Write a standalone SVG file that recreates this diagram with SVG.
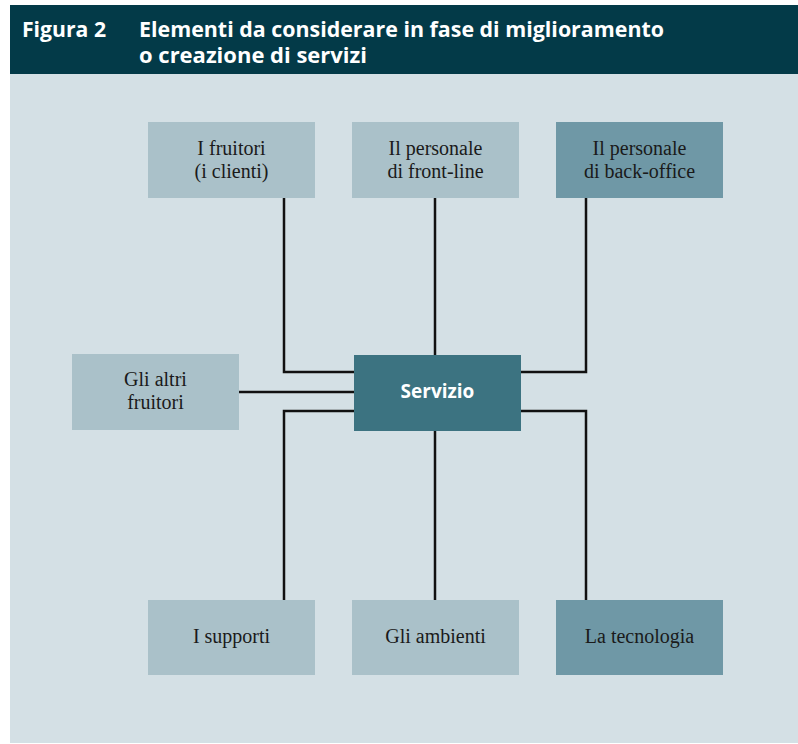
<svg xmlns="http://www.w3.org/2000/svg" width="798" height="744" viewBox="0 0 798 744">
<style>
.title{font-family:"Open Sans","Liberation Sans",sans-serif;font-weight:bold;font-size:21px;fill:#ffffff}
.lbl{font-family:"Liberation Serif","DejaVu Serif",serif;font-size:20px;fill:#1a1a1a;text-anchor:middle}
.light{fill:#aac1c9}
.dark{fill:#6f98a6}
.conn{stroke:#111;stroke-width:2.5;fill:none}
.center{font-family:"Open Sans","Liberation Sans",sans-serif;font-weight:bold;font-size:19px;fill:#fff;text-anchor:middle}
</style>
<rect x="0" y="0" width="798" height="744" fill="#ffffff"/>
<rect x="10" y="73" width="788" height="670" fill="#d4e0e5"/>
<rect x="10" y="5" width="788" height="69" fill="#033a48"/>
<text class="title" x="22" y="37" textLength="84" lengthAdjust="spacingAndGlyphs">Figura 2</text>
<text class="title" x="139" y="37" textLength="525" lengthAdjust="spacingAndGlyphs">Elementi da considerare in fase di miglioramento</text>
<text class="title" x="139" y="63" textLength="228" lengthAdjust="spacingAndGlyphs">o creazione di servizi</text>
<g id="connectors">
<polyline class="conn" points="284,198 284,372 354,372"/>
<line class="conn" x1="435" y1="198" x2="435" y2="355"/>
<polyline class="conn" points="586,198 586,372 521,372"/>
<line class="conn" x1="239" y1="392" x2="354" y2="392"/>
<polyline class="conn" points="354,411 284,411 284,600"/>
<line class="conn" x1="435" y1="431" x2="435" y2="600"/>
<polyline class="conn" points="521,411 586,411 586,600"/>
</g>
<g id="fruitori"><rect class="light" x="148" y="122" width="167" height="76"/><text class="lbl" x="231.5" y="155">I fruitori</text><text class="lbl" x="231.5" y="178">(i clienti)</text></g>
<g id="front-line"><rect class="light" x="352" y="122" width="167" height="76"/><text class="lbl" x="435.5" y="155">Il personale</text><text class="lbl" x="435.5" y="178">di front-line</text></g>
<g id="back-office"><rect class="dark" x="556" y="122" width="167" height="76"/><text class="lbl" x="639.5" y="155">Il personale</text><text class="lbl" x="639.5" y="178">di back-office</text></g>
<g id="altri"><rect class="light" x="72" y="354" width="167" height="76"/><text class="lbl" x="155.5" y="386">Gli altri</text><text class="lbl" x="155.5" y="409">fruitori</text></g>
<g id="servizio"><rect x="354" y="355" width="167" height="76" fill="#3c7381"/><text class="center" x="437.5" y="398">Servizio</text></g>
<g id="supporti"><rect class="light" x="148" y="600" width="167" height="75"/><text class="lbl" x="231.5" y="643">I supporti</text></g>
<g id="ambienti"><rect class="light" x="352" y="600" width="167" height="75"/><text class="lbl" x="435.5" y="643">Gli ambienti</text></g>
<g id="tecnologia"><rect class="dark" x="556" y="600" width="167" height="75"/><text class="lbl" x="639.5" y="643">La tecnologia</text></g>
</svg>
